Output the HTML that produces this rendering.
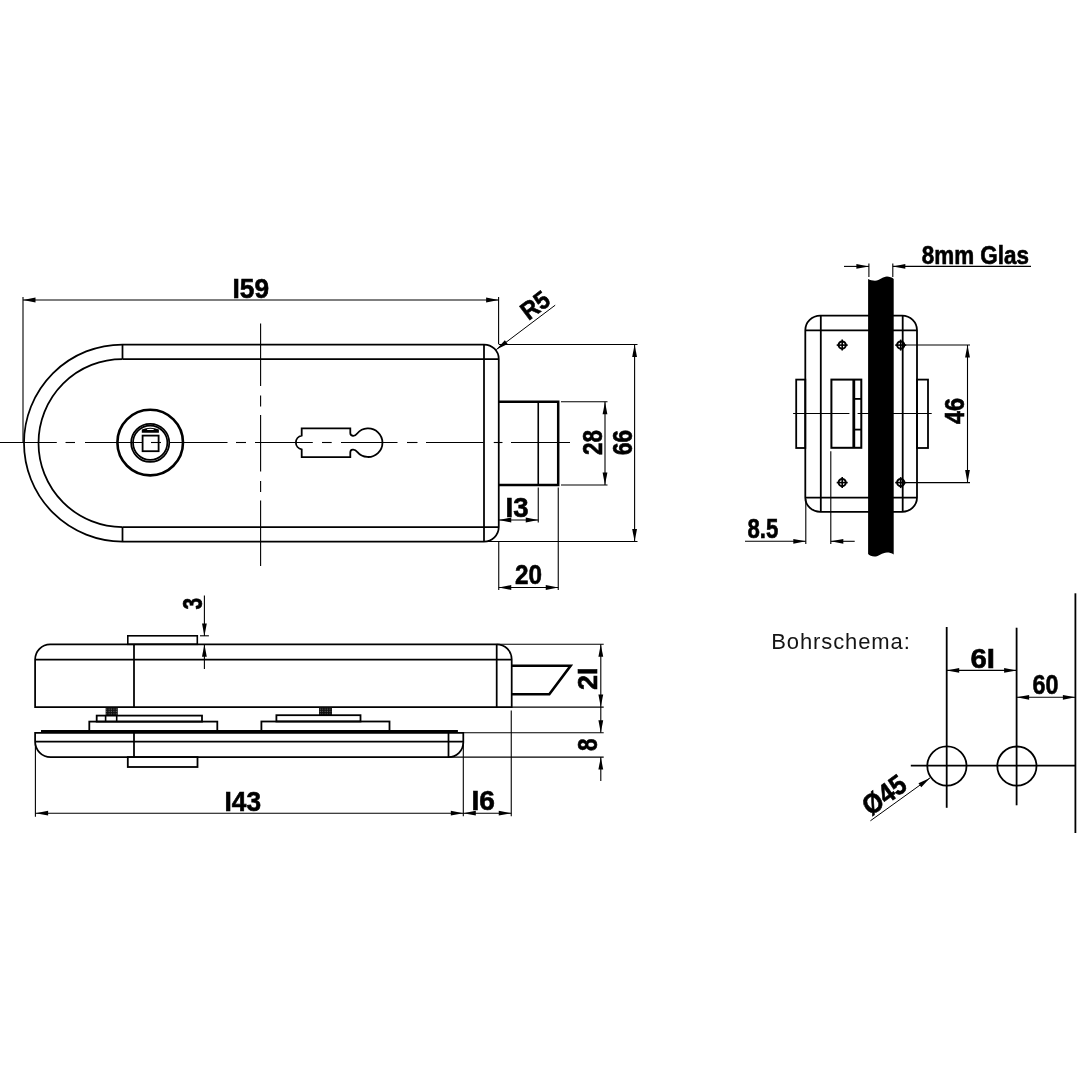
<!DOCTYPE html>
<html><head><meta charset="utf-8"><style>
html,body{margin:0;padding:0;background:#fff;}
svg{display:block;will-change:transform;}
text{font-family:"Liberation Sans",sans-serif;fill:#000;}
</style></head><body>
<svg width="1080" height="1080" viewBox="0 0 1080 1080">
<defs><pattern id="hatch" width="2.4" height="2.4" patternUnits="userSpaceOnUse"><rect width="2.4" height="2.4" fill="#111"/><rect x="0.6" y="0.6" width="0.9" height="0.9" fill="#888"/></pattern></defs>
<rect x="0" y="0" width="1080" height="1080" fill="#fff"/>
<g stroke="#000" fill="none" stroke-linecap="butt">
<line x1="0" y1="442.5" x2="56.8" y2="442.5" stroke-width="1.1" />
<line x1="65.5" y1="442.5" x2="75" y2="442.5" stroke-width="1.1" />
<line x1="85" y1="442.5" x2="142" y2="442.5" stroke-width="1.1" />
<line x1="151" y1="442.5" x2="161" y2="442.5" stroke-width="1.1" />
<line x1="170" y1="442.5" x2="227.5" y2="442.5" stroke-width="1.1" />
<line x1="236" y1="442.5" x2="246" y2="442.5" stroke-width="1.1" />
<line x1="255" y1="442.5" x2="312.8" y2="442.5" stroke-width="1.1" />
<line x1="322" y1="442.5" x2="331.7" y2="442.5" stroke-width="1.1" />
<line x1="341" y1="442.5" x2="397.5" y2="442.5" stroke-width="1.1" />
<line x1="407" y1="442.5" x2="417.5" y2="442.5" stroke-width="1.1" />
<line x1="426" y1="442.5" x2="483.5" y2="442.5" stroke-width="1.1" />
<line x1="493.75" y1="442.5" x2="502.5" y2="442.5" stroke-width="1.1" />
<line x1="511" y1="442.5" x2="570" y2="442.5" stroke-width="1.1" />
<line x1="260.6" y1="323.4" x2="260.6" y2="386" stroke-width="1.1" />
<line x1="260.6" y1="395.6" x2="260.6" y2="406.5" stroke-width="1.1" />
<line x1="260.6" y1="415" x2="260.6" y2="471.5" stroke-width="1.1" />
<line x1="260.6" y1="481" x2="260.6" y2="492" stroke-width="1.1" />
<line x1="260.6" y1="500.4" x2="260.6" y2="566" stroke-width="1.1" />
<path d="M 122.5 344.5 H 484 A 14.75 14.5 0 0 1 498.75 359 V 527 A 14.75 14.5 0 0 1 484 541.5 H 122.5 A 98.5 98.5 0 0 1 122.5 344.5 Z" stroke-width="1.75" fill="none" />
<path d="M 122.5 359 H 498.75 M 122.5 527 H 498.75" stroke-width="1.75" fill="none" />
<path d="M 122.5 527 A 84 84 0 0 1 122.5 359" stroke-width="1.75" fill="none" />
<path d="M 122.5 344.5 V 359 M 122.5 527 V 541.5 M 484 344.5 V 541.5" stroke-width="1.75" fill="none" />
<circle cx="150.2" cy="442.6" r="32.8" stroke-width="2.6" fill="none"/>
<circle cx="150.2" cy="442.8" r="19.05" stroke-width="1.75" fill="none"/>
<circle cx="150.2" cy="442.8" r="17.15" stroke-width="1.75" fill="none"/>
<rect x="142.6" y="435.6" width="16.0" height="15.6" stroke-width="1.8" fill="none"/>
<path d="M 141.8 432.7 V 429.6 Q 150.4 425.8 158.9 429.6 V 432.7 Z" stroke-width="0" fill="#000" stroke="none"/>
<ellipse cx="150.4" cy="429.4" rx="3.6" ry="0.7" fill="#fff" stroke="none"/>
<path d="M 301.7 435.6 V 428.3 H 350.3 V 433 C 350.3 436.2 354.5 437 357.2 433.5 A 14.3 14.3 0 1 1 357.2 451.9 C 354.5 448.4 350.3 449.2 350.3 452.4 V 457.2 H 301.7 V 449.4 A 7 7 0 0 1 301.7 435.6 Z" stroke-width="1.8" fill="none" />
<path d="M 498.75 401.75 H 558.2 V 485 H 498.75" stroke-width="2.5" fill="none" />
<line x1="538.25" y1="401.75" x2="538.25" y2="485" stroke-width="1.6" />
<line x1="23" y1="297" x2="23" y2="442" stroke-width="1.1" />
<line x1="498.6" y1="297" x2="498.6" y2="344" stroke-width="1.1" />
<line x1="498.75" y1="344.5" x2="637.5" y2="344.5" stroke-width="1.1" />
<line x1="484" y1="541.5" x2="637.5" y2="541.5" stroke-width="1.1" />
<line x1="561" y1="401.75" x2="607.5" y2="401.75" stroke-width="1.1" />
<line x1="561" y1="485" x2="607.5" y2="485" stroke-width="1.1" />
<line x1="538.25" y1="487.5" x2="538.25" y2="522.5" stroke-width="1.1" />
<line x1="498.75" y1="541.5" x2="498.75" y2="590" stroke-width="1.1" />
<line x1="558.25" y1="487.5" x2="558.25" y2="590" stroke-width="1.1" />
<line x1="23" y1="300" x2="498.6" y2="300" stroke-width="1.1" />
<polygon points="23.00,300.00 35.50,297.60 35.50,302.40" stroke="none" fill="#000"/>
<polygon points="498.60,300.00 486.10,302.40 486.10,297.60" stroke="none" fill="#000"/>
<line x1="634.6" y1="344.5" x2="634.6" y2="541.5" stroke-width="1.1" />
<polygon points="634.60,344.50 637.00,357.00 632.20,357.00" stroke="none" fill="#000"/>
<polygon points="634.60,541.50 632.20,529.00 637.00,529.00" stroke="none" fill="#000"/>
<line x1="605" y1="401.75" x2="605" y2="485" stroke-width="1.1" />
<polygon points="605.00,401.75 607.40,414.25 602.60,414.25" stroke="none" fill="#000"/>
<polygon points="605.00,485.00 602.60,472.50 607.40,472.50" stroke="none" fill="#000"/>
<line x1="498.75" y1="520" x2="538.25" y2="520" stroke-width="1.1" />
<polygon points="498.75,520.00 511.25,517.60 511.25,522.40" stroke="none" fill="#000"/>
<polygon points="538.25,520.00 525.75,522.40 525.75,517.60" stroke="none" fill="#000"/>
<line x1="498.75" y1="587.5" x2="558.25" y2="587.5" stroke-width="1.1" />
<polygon points="498.75,587.50 511.25,585.10 511.25,589.90" stroke="none" fill="#000"/>
<polygon points="558.25,587.50 545.75,589.90 545.75,585.10" stroke="none" fill="#000"/>
<line x1="555.2" y1="305.2" x2="496.3" y2="349.6" stroke-width="1.0" />
<polygon points="496.30,349.60 504.84,340.16 507.73,343.99" stroke="none" fill="#000"/>
<text x="232.5" y="298" font-size="27.5" font-weight="bold" text-anchor="start" textLength="36.5" lengthAdjust="spacingAndGlyphs" stroke="#000" stroke-width="0.6" >I59</text>
<text x="505.5" y="517" font-size="27.5" font-weight="bold" text-anchor="start" textLength="23" lengthAdjust="spacingAndGlyphs" stroke="#000" stroke-width="0.6" >I3</text>
<text x="515" y="584" font-size="27.5" font-weight="bold" text-anchor="start" textLength="27" lengthAdjust="spacingAndGlyphs" stroke="#000" stroke-width="0.6" >20</text>
<text x="602.3" y="455" font-size="27.5" font-weight="bold" text-anchor="start" textLength="25" lengthAdjust="spacingAndGlyphs" transform="rotate(-90 602.3 455)" stroke="#000" stroke-width="0.6" >28</text>
<text x="632" y="455" font-size="27.5" font-weight="bold" text-anchor="start" textLength="25" lengthAdjust="spacingAndGlyphs" transform="rotate(-90 632 455)" stroke="#000" stroke-width="0.6" >66</text>
<text x="528.5" y="321" font-size="25" font-weight="bold" text-anchor="start" textLength="29.5" lengthAdjust="spacingAndGlyphs" transform="rotate(-37 528.5 321)" stroke="#000" stroke-width="0.6" >R5</text>
<path d="M 35.1 659.6 A 15 15.3 0 0 1 50.1 644.3 H 496.7 A 15 15 0 0 1 511.7 659.3 V 707.1 H 35.1 Z" stroke-width="1.75" fill="none" />
<path d="M 35.1 659.7 H 511.7 M 134 644.3 V 707.1 M 496.7 644.3 V 707.1" stroke-width="1.75" fill="none" />
<rect x="127.8" y="635.8" width="69.5" height="8.5" stroke-width="1.6" fill="none"/>
<path d="M 511.7 665.7 H 570.6 L 549.3 694.2 H 511.7" stroke-width="2.6" fill="none" />
<rect x="105.6" y="707.8" width="12.2" height="7.2" stroke-width="0" fill="url(#hatch)"/>
<rect x="319" y="707.5" width="13" height="7.5" stroke-width="0" fill="url(#hatch)"/>
<rect x="96.7" y="715.6" width="105.3" height="6.0" stroke-width="1.8" fill="none"/>
<line x1="105.6" y1="715.6" x2="105.6" y2="721.6" stroke-width="1.6" />
<line x1="116.7" y1="715.6" x2="116.7" y2="721.6" stroke-width="1.6" />
<rect x="89.3" y="721.6" width="128.0" height="9.4" stroke-width="1.8" fill="none"/>
<rect x="276.4" y="715.2" width="84.1" height="6.3" stroke-width="1.8" fill="none"/>
<rect x="261.4" y="721.5" width="128.1" height="9.5" stroke-width="1.8" fill="none"/>
<line x1="41" y1="731.3" x2="457.9" y2="731.3" stroke-width="2.8" />
<path d="M 35.1 732.8 H 463.3 V 742.5 A 14.8 14.5 0 0 1 448.5 757.1 H 50.6 A 15.5 15.6 0 0 1 35.1 741.5 Z" stroke-width="1.75" fill="none" />
<path d="M 35.1 741.5 H 463.3 M 134 731.3 V 757.1 M 448.5 732.8 V 757.1" stroke-width="1.75" fill="none" />
<rect x="127.8" y="757.1" width="69.7" height="9.9" stroke-width="1.8" fill="none"/>
<line x1="200" y1="635.8" x2="208.9" y2="635.8" stroke-width="1.1" />
<line x1="496.7" y1="644.3" x2="603.7" y2="644.3" stroke-width="1.1" />
<line x1="511.7" y1="707.1" x2="603.7" y2="707.1" stroke-width="1.1" />
<line x1="463.3" y1="732.7" x2="603.7" y2="732.7" stroke-width="1.1" />
<line x1="448.5" y1="757.1" x2="603.7" y2="757.1" stroke-width="1.1" />
<line x1="35.4" y1="742" x2="35.4" y2="816.7" stroke-width="1.1" />
<line x1="463.3" y1="743" x2="463.3" y2="816.3" stroke-width="1.1" />
<line x1="511.25" y1="710.4" x2="511.25" y2="816.3" stroke-width="1.1" />
<line x1="204.4" y1="595.6" x2="204.4" y2="636" stroke-width="1.1" />
<polygon points="204.40,636.00 202.00,623.50 206.80,623.50" stroke="none" fill="#000"/>
<line x1="204.4" y1="668.9" x2="204.4" y2="644.3" stroke-width="1.1" />
<polygon points="204.40,644.30 206.80,656.80 202.00,656.80" stroke="none" fill="#000"/>
<line x1="600.8" y1="644.3" x2="600.8" y2="707.1" stroke-width="1.1" />
<polygon points="600.80,644.30 603.20,656.80 598.40,656.80" stroke="none" fill="#000"/>
<polygon points="600.80,707.10 598.40,694.60 603.20,694.60" stroke="none" fill="#000"/>
<line x1="600.8" y1="707.1" x2="600.8" y2="732.7" stroke-width="1.1" />
<polygon points="600.80,732.70 598.40,720.20 603.20,720.20" stroke="none" fill="#000"/>
<line x1="600.8" y1="781" x2="600.8" y2="757.1" stroke-width="1.1" />
<polygon points="600.80,757.10 603.20,769.60 598.40,769.60" stroke="none" fill="#000"/>
<line x1="35.6" y1="813.2" x2="463.3" y2="813.2" stroke-width="1.1" />
<polygon points="35.60,813.20 48.10,810.80 48.10,815.60" stroke="none" fill="#000"/>
<polygon points="463.30,813.20 450.80,815.60 450.80,810.80" stroke="none" fill="#000"/>
<line x1="463.3" y1="813.2" x2="511.25" y2="813.2" stroke-width="1.1" />
<polygon points="463.30,813.20 475.80,810.80 475.80,815.60" stroke="none" fill="#000"/>
<polygon points="511.25,813.20 498.75,815.60 498.75,810.80" stroke="none" fill="#000"/>
<text x="202" y="609.6" font-size="27.5" font-weight="bold" text-anchor="start" textLength="11.6" lengthAdjust="spacingAndGlyphs" transform="rotate(-90 202 609.6)" stroke="#000" stroke-width="0.6" >3</text>
<text x="597.3" y="690" font-size="27.5" font-weight="bold" text-anchor="start" textLength="22.5" lengthAdjust="spacingAndGlyphs" transform="rotate(-90 597.3 690)" stroke="#000" stroke-width="0.6" >2I</text>
<text x="597.3" y="751" font-size="27.5" font-weight="bold" text-anchor="start" textLength="12.5" lengthAdjust="spacingAndGlyphs" transform="rotate(-90 597.3 751)" stroke="#000" stroke-width="0.6" >8</text>
<text x="224.5" y="810.5" font-size="27.5" font-weight="bold" text-anchor="start" textLength="36.5" lengthAdjust="spacingAndGlyphs" stroke="#000" stroke-width="0.6" >I43</text>
<text x="471.5" y="809.5" font-size="27.5" font-weight="bold" text-anchor="start" textLength="23.5" lengthAdjust="spacingAndGlyphs" stroke="#000" stroke-width="0.6" >I6</text>
<line x1="793.1" y1="413.5" x2="849.4" y2="413.5" stroke-width="1.1" />
<line x1="857.6" y1="413.5" x2="931.7" y2="413.5" stroke-width="1.1" />
<path d="M 820.3 315.7 H 902.2 A 14.8 14.6 0 0 1 917 330.3 V 497.5 A 14.8 14.4 0 0 1 902.2 511.9 H 820.3 A 15 14.4 0 0 1 805.3 497.5 V 330.3 A 15 14.6 0 0 1 820.3 315.7 Z" stroke-width="1.8" fill="none" />
<path d="M 805.3 330.3 H 917 M 805.3 497.6 H 917 M 820.8 315.7 V 511.9 M 902.7 315.7 V 511.9" stroke-width="1.8" fill="none" />
<rect x="796.2" y="379.6" width="9.1" height="68.4" stroke-width="1.8" fill="none"/>
<rect x="917" y="379.6" width="11" height="68.4" stroke-width="1.8" fill="none"/>
<rect x="831.4" y="379.6" width="29.9" height="68.2" stroke-width="2" fill="none"/>
<line x1="853.8" y1="379.6" x2="853.8" y2="447.8" stroke-width="2.8" />
<line x1="853.8" y1="398.9" x2="861.3" y2="398.9" stroke-width="1.8" />
<line x1="853.8" y1="429.6" x2="861.3" y2="429.6" stroke-width="1.8" />
<path d="M 868.1 279.1 C 870 280.3 872.5 280.8 875 280.8 C 880 280.8 882.5 276.6 887 276.6 C 889.5 276.6 891.8 277.5 893.7 278.9 V 554.4 C 891.5 553 889.5 552.4 887 552.4 C 882 552.4 879 556.5 874.4 556.5 C 871.5 556.5 869.5 555.5 868.1 554 Z" stroke-width="0" fill="#000" stroke="none"/>
<circle cx="842.2" cy="345.1" r="3.6" stroke-width="2" fill="none"/>
<line x1="836.7" y1="345.1" x2="847.7" y2="345.1" stroke-width="1.6" />
<line x1="842.2" y1="339.6" x2="842.2" y2="350.6" stroke-width="1.6" />
<circle cx="900.7" cy="345.1" r="3.6" stroke-width="2" fill="none"/>
<line x1="895.2" y1="345.1" x2="906.2" y2="345.1" stroke-width="1.6" />
<line x1="900.7" y1="339.6" x2="900.7" y2="350.6" stroke-width="1.6" />
<circle cx="842.2" cy="482.6" r="3.6" stroke-width="2" fill="none"/>
<line x1="836.7" y1="482.6" x2="847.7" y2="482.6" stroke-width="1.6" />
<line x1="842.2" y1="477.1" x2="842.2" y2="488.1" stroke-width="1.6" />
<circle cx="900.7" cy="482.6" r="3.6" stroke-width="2" fill="none"/>
<line x1="895.2" y1="482.6" x2="906.2" y2="482.6" stroke-width="1.6" />
<line x1="900.7" y1="477.1" x2="900.7" y2="488.1" stroke-width="1.6" />
<line x1="868.9" y1="263.6" x2="868.9" y2="277" stroke-width="1.1" />
<line x1="892.8" y1="263.6" x2="892.8" y2="277" stroke-width="1.1" />
<line x1="905" y1="345" x2="970" y2="345" stroke-width="1.1" />
<line x1="905" y1="482.6" x2="970" y2="482.6" stroke-width="1.1" />
<line x1="805.8" y1="499" x2="805.8" y2="544" stroke-width="1.1" />
<line x1="830.8" y1="451.2" x2="830.8" y2="544" stroke-width="1.1" />
<line x1="844" y1="266.4" x2="868.9" y2="266.4" stroke-width="1.1" />
<polygon points="868.90,266.40 856.40,268.80 856.40,264.00" stroke="none" fill="#000"/>
<line x1="1031" y1="266.4" x2="892.8" y2="266.4" stroke-width="1.1" />
<polygon points="892.80,266.40 905.30,264.00 905.30,268.80" stroke="none" fill="#000"/>
<line x1="967.5" y1="345" x2="967.5" y2="482.6" stroke-width="1.1" />
<polygon points="967.50,345.00 969.90,357.50 965.10,357.50" stroke="none" fill="#000"/>
<polygon points="967.50,482.60 965.10,470.10 969.90,470.10" stroke="none" fill="#000"/>
<line x1="745" y1="541.3" x2="805.8" y2="541.3" stroke-width="1.1" />
<polygon points="805.80,541.30 793.30,543.70 793.30,538.90" stroke="none" fill="#000"/>
<line x1="854.7" y1="541.3" x2="830.8" y2="541.3" stroke-width="1.1" />
<polygon points="830.80,541.30 843.30,538.90 843.30,543.70" stroke="none" fill="#000"/>
<text x="921.7" y="263.5" font-size="25" font-weight="bold" text-anchor="start" textLength="107.3" lengthAdjust="spacingAndGlyphs" stroke="#000" stroke-width="0.6" >8mm Glas</text>
<text x="964" y="424" font-size="27.5" font-weight="bold" text-anchor="start" textLength="26" lengthAdjust="spacingAndGlyphs" transform="rotate(-90 964 424)" stroke="#000" stroke-width="0.6" >46</text>
<text x="747.5" y="538.3" font-size="27.5" font-weight="bold" text-anchor="start" textLength="30.8" lengthAdjust="spacingAndGlyphs" stroke="#000" stroke-width="0.6" >8.5</text>
<text x="771.2" y="649.4" font-size="22" font-weight="normal" text-anchor="start" textLength="138.6" lengthAdjust="spacing" stroke="none" style="fill:#151515">Bohrschema:</text>
<line x1="946.7" y1="627" x2="946.7" y2="807.8" stroke-width="1.8" />
<line x1="1016.6" y1="627.7" x2="1016.6" y2="805.3" stroke-width="1.8" />
<line x1="1075.4" y1="593.3" x2="1075.4" y2="833" stroke-width="1.8" />
<line x1="910.8" y1="765.7" x2="1075.4" y2="765.7" stroke-width="1.8" />
<circle cx="946.9" cy="766" r="19.6" stroke-width="1.8" fill="none"/>
<circle cx="1016.9" cy="766.1" r="19.6" stroke-width="1.8" fill="none"/>
<line x1="946.7" y1="670.4" x2="1016.6" y2="670.4" stroke-width="1.1" />
<polygon points="946.70,670.40 959.20,668.00 959.20,672.80" stroke="none" fill="#000"/>
<polygon points="1016.60,670.40 1004.10,672.80 1004.10,668.00" stroke="none" fill="#000"/>
<line x1="1016.6" y1="697.3" x2="1075.4" y2="697.3" stroke-width="1.1" />
<polygon points="1016.60,697.30 1029.10,694.90 1029.10,699.70" stroke="none" fill="#000"/>
<polygon points="1075.40,697.30 1062.90,699.70 1062.90,694.90" stroke="none" fill="#000"/>
<line x1="870.4" y1="820.8" x2="930" y2="777.9" stroke-width="1.0" />
<polygon points="930.00,777.90 921.26,787.15 918.45,783.25" stroke="none" fill="#000"/>
<text x="970.5" y="667.6" font-size="27.5" font-weight="bold" text-anchor="start" textLength="24.5" lengthAdjust="spacingAndGlyphs" stroke="#000" stroke-width="0.6" >6I</text>
<text x="1032.6" y="693.7" font-size="27.5" font-weight="bold" text-anchor="start" textLength="26" lengthAdjust="spacingAndGlyphs" stroke="#000" stroke-width="0.6" >60</text>
<text x="870.5" y="816.5" font-size="27.5" font-weight="bold" text-anchor="start" textLength="47.5" lengthAdjust="spacingAndGlyphs" transform="rotate(-36 870.5 816.5)" stroke="#000" stroke-width="0.6" >Ø45</text>
</g>
</svg>
</body></html>
